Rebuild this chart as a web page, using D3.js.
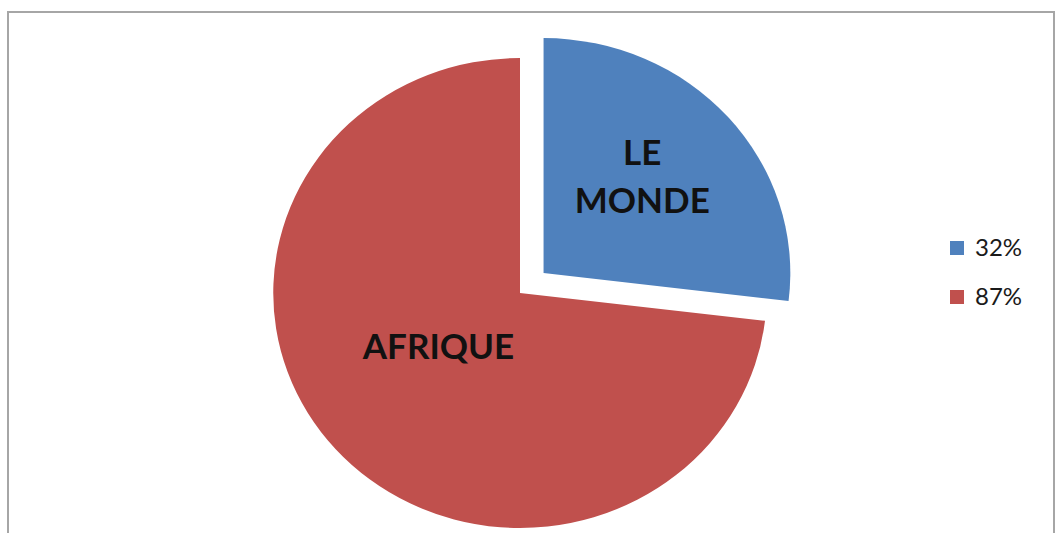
<!DOCTYPE html>
<html>
<head>
<meta charset="utf-8">
<script src="https://cdn.jsdelivr.net/npm/d3@7"></script>
<style>
  body { margin: 0; background: #fff; }
  svg text { font-family: Lato, "Open Sans", sans-serif; }
</style>
</head>
<body>
<div id="chart"></div>
<script>
var categories = ["LE MONDE", "AFRIQUE"];
var values = [32, 87];
var legendLabels = ["32%", "87%"];
var sliceColors = ["#4F81BD", "#C0504D"];

var width = 1056, height = 533;
var cx = 520, cy = 293, radius = 235, stretchX = 1.05;
var explode = [30, 0];
var labelRadius = [0.6, 0.42];
// small nudges so the labels sit where Excel put them
var labelShift = [[-12, -2], [-4, -12]];

var svg = d3.select("#chart").append("svg")
    .attr("width", width)
    .attr("height", height);

// chart frame (bottom edge falls outside the picture)
svg.append("rect")
    .attr("x", 8).attr("y", 12)
    .attr("width", 1046).attr("height", 560)
    .attr("fill", "none")
    .attr("stroke", "#a6a6a6")
    .attr("stroke-width", 2);

var pie = d3.pie().sort(null)(values);
var arc = d3.arc().innerRadius(0).outerRadius(radius);

var g = svg.append("g")
    .attr("transform", "translate(" + cx + "," + cy + ")");

var slices = g.selectAll("g.slice")
    .data(pie)
    .enter().append("g")
    .attr("class", "slice")
    .attr("transform", function (d, i) {
        var mid = (d.startAngle + d.endAngle) / 2;
        var dx = Math.sin(mid) * explode[i] * stretchX;
        var dy = -Math.cos(mid) * explode[i];
        return "translate(" + dx + "," + dy + ")";
    });

slices.append("path")
    .attr("d", arc)
    .attr("transform", "scale(" + stretchX + ",1)")
    .attr("fill", function (d, i) { return sliceColors[i]; });

slices.each(function (d, i) {
    var mid = (d.startAngle + d.endAngle) / 2;
    var r = radius * labelRadius[i];
    var x = Math.sin(mid) * r * stretchX + labelShift[i][0];
    var y = -Math.cos(mid) * r + labelShift[i][1];
    var words = categories[i].split(" ");
    var lineH = 48;
    var t = d3.select(this).append("text")
        .attr("text-anchor", "middle")
        .attr("font-size", 35)
        .attr("font-weight", "bold")
        .attr("fill", "#111");
    words.forEach(function (w, k) {
        t.append("tspan")
            .attr("x", x)
            .attr("y", y + (k - (words.length - 1) / 2) * lineH + 12)
            .text(w);
    });
});

// legend
var legend = svg.selectAll("g.legend")
    .data(legendLabels)
    .enter().append("g")
    .attr("class", "legend")
    .attr("transform", function (d, i) { return "translate(950," + (241 + i * 49) + ")"; });

legend.append("rect")
    .attr("width", 14).attr("height", 14)
    .attr("fill", function (d, i) { return sliceColors[i]; });

legend.append("text")
    .attr("x", 25).attr("y", 15)
    .attr("font-size", 24)
    .attr("fill", "#1a1a1a")
    .text(function (d) { return d; });
</script>
</body>
</html>
